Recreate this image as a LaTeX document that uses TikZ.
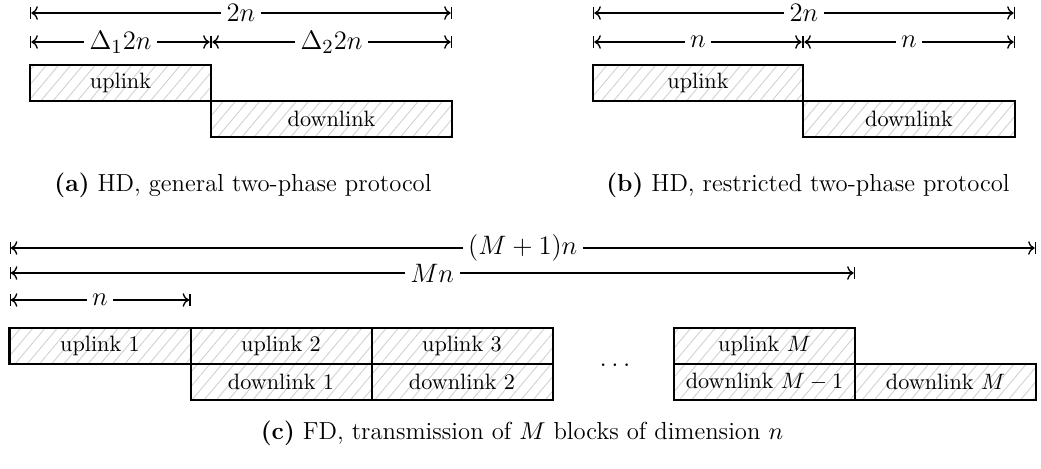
\documentclass[tikz,border=0pt]{standalone}
\usetikzlibrary{arrows.meta,patterns.meta,positioning}
\tikzset{
  blk/.style={draw,line width=0.9pt,pattern={Lines[angle=50,distance=4.2pt,line width=0.4pt]},pattern color=black!18,
    minimum width=81.45pt,minimum height=16.2pt,inner sep=0pt,outer sep=0pt},
  dim/.style={semithick,|<->|},
  dimlabel/.style={fill=white,inner sep=2.5pt,font=\fontsize{13}{15}\selectfont},
  captext/.style={inner sep=0pt,font=\fontsize{11.1}{13}\selectfont}
}

\begin{document}
\begin{tikzpicture}[x=0.45pt,y=-0.45pt]
\useasboundingbox (0,0) rectangle (1041,469);
% (a) general two-phase
\node[blk,anchor=north west] (a-up) at (30,65) {uplink};
\node[blk,anchor=north west,minimum width=108.45pt] (a-down) at (a-up.south east) {downlink};
\draw[dim] (a-up.north west |- 0,13) -- (a-down.north east |- 0,13) node[dimlabel,midway] {$2n$};
\draw[dim] (a-up.north west |- 0,42) -- (a-up.north east |- 0,42) node[dimlabel,midway] {$\Delta_1 2n$};
\draw[dim] (a-up.north east |- 0,42) -- (a-down.north east |- 0,42) node[dimlabel,midway] {$\Delta_2 2n$};
\node[captext] (a-cap) at (243,185) {\textbf{(a)} HD, general two-phase protocol};
% (b) restricted two-phase
\node[blk,anchor=north west,minimum width=94.5pt] (b-up) at (593,65) {uplink};
\node[blk,anchor=north west,minimum width=95.4pt] (b-down) at (b-up.south east) {downlink};
\draw[dim] (b-up.north west |- 0,13) -- (b-down.north east |- 0,13) node[dimlabel,midway] {$2n$};
\draw[dim] (b-up.north west |- 0,42) -- (b-up.north east |- 0,42) node[dimlabel,midway] {$n$};
\draw[dim] (b-up.north east |- 0,42) -- (b-down.north east |- 0,42) node[dimlabel,midway] {$n$};
\node[captext] (b-cap) at (808,185) {\textbf{(b)} HD, restricted two-phase protocol};
% (c) FD, M blocks
\node[blk,anchor=north west] (c-up1) at (9.5,328) {uplink 1};
\node[blk,right=0pt of c-up1] (c-up2) {uplink 2};
\node[blk,right=0pt of c-up2] (c-up3) {uplink 3};
\node[blk,anchor=north west] (c-dn1) at (c-up2.south west) {downlink 1};
\node[blk,right=0pt of c-dn1] (c-dn2) {downlink 2};
\node[blk,anchor=north west] (c-upM) at (674,328) {uplink $M$};
\node[blk,anchor=north west] (c-dnM1) at (c-upM.south west) {downlink $M-1$};
\node[blk,right=0pt of c-dnM1] (c-dnM) {downlink $M$};
\node[inner sep=1pt,font=\fontsize{13}{15}\selectfont] (c-dots) at (615,365) {$\dots$};
\draw[dim] (c-up1.north west |- 0,248) -- (c-dnM.north east |- 0,248) node[dimlabel,midway] {$(M+1)n$};
\draw[dim] (c-up1.north west |- 0,273) -- (c-upM.north east |- 0,273) node[dimlabel,midway] {$Mn$};
\draw[dim] (c-up1.north west |- 0,300) -- (c-up1.north east |- 0,300) node[dimlabel,midway] {$n$};
\node[captext] (c-cap) at (522,433) {\textbf{(c)} FD, transmission of $M$ blocks of dimension $n$};
\end{tikzpicture}
\end{document}
